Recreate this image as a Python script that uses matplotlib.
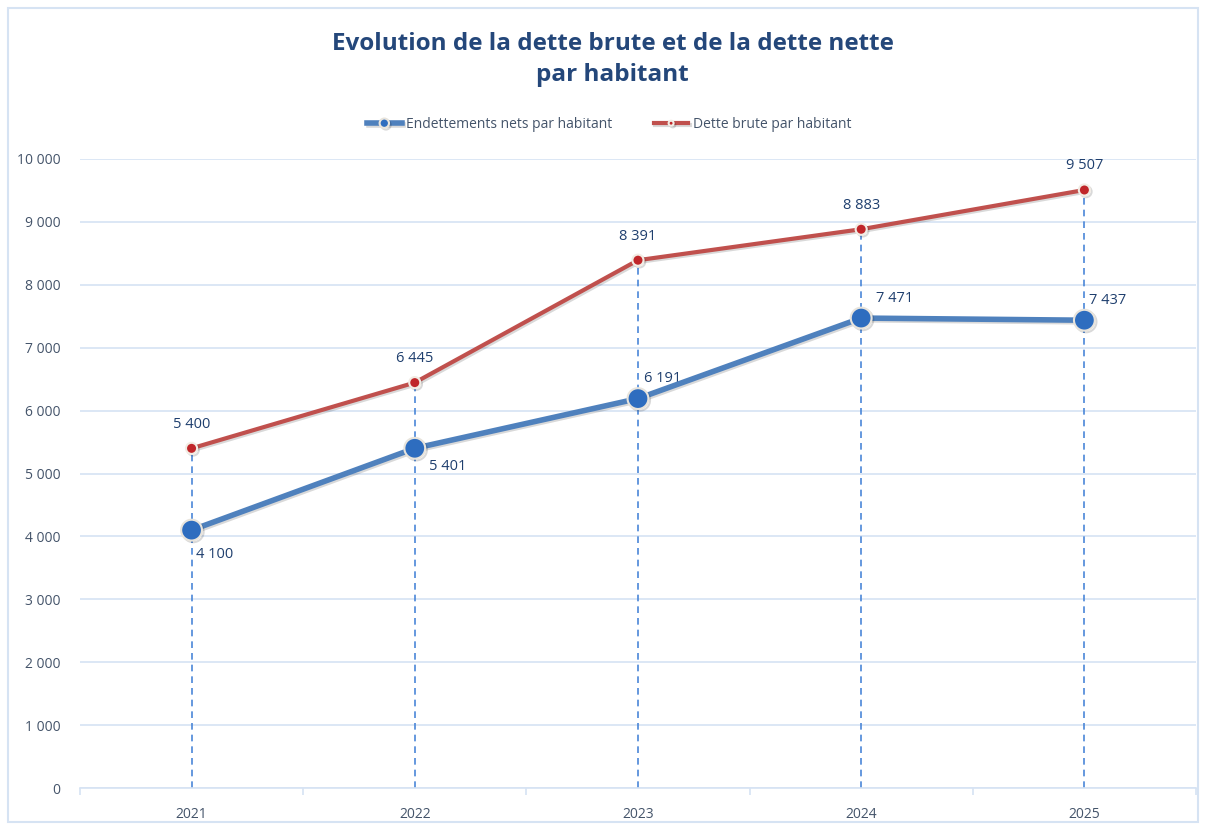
import matplotlib
matplotlib.use("Agg")
import matplotlib.pyplot as plt
import matplotlib.patheffects as pe
from matplotlib.patches import Rectangle

years = ["2021", "2022", "2023", "2024", "2025"]
net_debt = [4100, 5401, 6191, 7471, 7437]
gross_debt = [5400, 6445, 8391, 8883, 9507]
yticks = [0, 1000, 2000, 3000, 4000, 5000, 6000, 7000, 8000, 9000, 10000]

BLUE = "#4f81bd"
RED = "#c0504d"
TXT = "#1f3f6e"
GRID = "#d6e3f3"

plt.rcParams['font.family'] = ['Open Sans', 'DejaVu Sans']


def fmt(v):
    return f"{v:,}".replace(",", " ")


fig = plt.figure(figsize=(12.06, 8.25), dpi=100)
fig.patches.append(Rectangle((0.007, 0.004), 0.986, 0.986, transform=fig.transFigure,
                             fill=False, edgecolor=GRID, linewidth=1.5))
ax = fig.add_axes([0.0663, 0.0448, 0.9254, 0.7625])

x = list(range(len(years)))

# drop lines
for i in x:
    ax.plot([i, i], [0, max(net_debt[i], gross_debt[i])], ls=(0, (4, 3)),
            color="#4a86d8", lw=1.2, zorder=2)

shadow = [pe.SimpleLineShadow(offset=(1.2, -1.2), alpha=0.15), pe.Normal()]
ax.plot(x, gross_debt, color=RED, lw=3, marker="o", ms=8, mfc="#c0262a",
        mec="#f2ece4", mew=1.5, zorder=4, path_effects=shadow,
        label="Dette brute par habitant")
ax.plot(x, net_debt, color=BLUE, lw=4, marker="o", ms=15, mfc="#2e6dbf",
        mec="#e8e4dc", mew=1.5, zorder=5, path_effects=shadow,
        label="Endettements nets par habitant")

# labels
for i, v in enumerate(gross_debt):
    ax.annotate(fmt(v), (i, v), xytext=(0, 12), textcoords="offset points",
                ha="center", va="bottom", fontsize=10.5, color=TXT)
net_off = [(3, -12, "top"), (10, -8, "top"), (4, 9, "bottom"), (11, 9, "bottom"), (3, 9, "bottom")]
for i, v in enumerate(net_debt):
    dx, dy, va = net_off[i]
    ax.annotate(fmt(v), (i, v), xytext=(dx, dy), textcoords="offset points",
                ha="left", va=va, fontsize=10.5, color=TXT)

ax.set_xlim(-0.5, 4.5)
ax.set_ylim(0, 10000)
ax.set_yticks(yticks)
ax.set_yticklabels([fmt(t) for t in yticks])
ax.set_xticks(x)
ax.set_xticklabels(years)
ax.set_xticks([-0.5, 0.5, 1.5, 2.5, 3.5, 4.5], minor=True)
ax.tick_params(axis="x", which="major", length=0, pad=14, labelsize=10, labelcolor="#44546a")
ax.tick_params(axis="x", which="minor", length=5, color=GRID, width=1.2)
ax.tick_params(axis="y", length=0, pad=14, labelsize=10, labelcolor="#44546a")
for s in ["top", "right", "left"]:
    ax.spines[s].set_visible(False)
ax.spines["bottom"].set_color(GRID)
ax.spines["bottom"].set_linewidth(1.2)
ax.yaxis.grid(True, color=GRID, lw=1.2)
ax.set_axisbelow(True)

handles, labels = ax.get_legend_handles_labels()
leg = fig.legend(handles[::-1], labels[::-1], loc="center", bbox_to_anchor=(0.505, 0.849),
                 ncol=2, frameon=False, fontsize=10, handlelength=2.5, columnspacing=3,
                 handletextpad=0.3, markerscale=0.45)
for t in leg.get_texts():
    t.set_color("#44546a")

fig.text(0.508, 0.928, "Evolution de la dette brute et de la dette nette\npar habitant",
         ha="center", va="center", fontsize=17.5, fontweight="bold", color="#24477a",
         linespacing=1.35)

fig.savefig("out.png", dpi=100)
